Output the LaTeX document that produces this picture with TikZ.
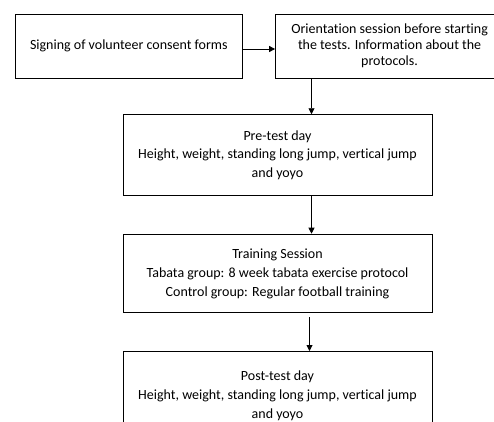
\documentclass[tikz,border=0pt]{standalone}
\usepackage{fontspec}
\setmainfont{Carlito}[Ligatures={NoCommon}]
\usetikzlibrary{arrows.meta}
\begin{document}
\begin{tikzpicture}[x=1pt,y=-1pt,
  flowbox/.style={draw=black,line width=1pt,fill=white,align=center,inner sep=0pt,
    font=\fontsize{14}{16}\selectfont},
  arr/.style={line width=0.9pt,-{Triangle[length=6pt,width=6pt]}}]
\clip (0,0) rectangle (494,421);
\fill[white] (0,0) rectangle (494,421);
\node[flowbox,minimum width=227pt,minimum height=64pt] (b1) at (128.8,46) {Signing of volunteer consent forms};
\node[flowbox,minimum width=228pt,minimum height=64pt] (b2) at (389.6,46) {Orientation session before starting\\the tests. Information about the\\protocols.};
\node[flowbox,minimum width=309pt,minimum height=80.5pt,font=\fontsize{14}{18.5}\selectfont] (b3) at (277.5,155) {Pre-test day\\Height, weight, standing long jump, vertical jump\\and yoyo};
\node[flowbox,minimum width=309pt,minimum height=78.6pt,font=\fontsize{14}{19}\selectfont] (b4) at (277.5,273.5) {Training Session\\Tabata group: 8 week tabata exercise protocol\\Control group: Regular football training};
\node[flowbox,minimum width=309pt,minimum height=88pt,font=\fontsize{14}{19}\selectfont] (b5) at (277.5,395.5) {Post-test day\\Height, weight, standing long jump, vertical jump\\and yoyo};
\coordinate (c1) at (311.5,0);
\coordinate (c2) at (309.5,0);
\draw[arr] ([yshift=-3pt]b1.east) -- ([yshift=-3pt]b2.west);
\draw[arr] (b2.south -| c1) -- (b3.north -| c1);
\draw[arr] (b3.south -| c1) -- (b4.north -| c1);
\draw[arr,shorten <=4pt] (b4.south -| c2) -- (b5.north -| c2);
\end{tikzpicture}
\end{document}
